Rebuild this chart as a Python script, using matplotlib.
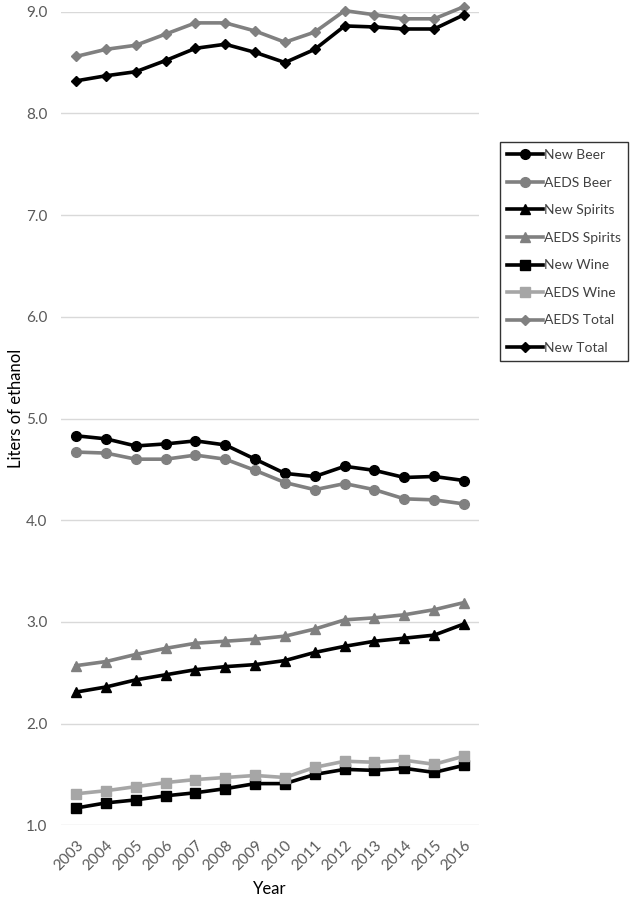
import matplotlib.pyplot as plt

plt.rcParams['font.family'] = ['Lato', 'DejaVu Sans']

years = [2003, 2004, 2005, 2006, 2007, 2008, 2009, 2010, 2011, 2012, 2013, 2014, 2015, 2016]

new_beer = [4.83, 4.80, 4.73, 4.75, 4.78, 4.74, 4.60, 4.46, 4.43, 4.53, 4.49, 4.42, 4.43, 4.39]
aeds_beer = [4.67, 4.66, 4.60, 4.60, 4.64, 4.60, 4.49, 4.37, 4.30, 4.36, 4.30, 4.21, 4.20, 4.16]
new_spirits = [2.31, 2.36, 2.43, 2.48, 2.53, 2.56, 2.58, 2.62, 2.70, 2.76, 2.81, 2.84, 2.87, 2.98]
aeds_spirits = [2.57, 2.61, 2.68, 2.74, 2.79, 2.81, 2.83, 2.86, 2.93, 3.02, 3.04, 3.07, 3.12, 3.19]
new_wine = [1.17, 1.22, 1.25, 1.29, 1.32, 1.36, 1.41, 1.41, 1.50, 1.55, 1.54, 1.56, 1.52, 1.59]
aeds_wine = [1.31, 1.34, 1.38, 1.42, 1.45, 1.47, 1.49, 1.47, 1.57, 1.63, 1.62, 1.64, 1.60, 1.68]
aeds_total = [8.56, 8.63, 8.67, 8.78, 8.89, 8.89, 8.81, 8.70, 8.80, 9.01, 8.97, 8.93, 8.93, 9.05]
new_total = [8.32, 8.37, 8.41, 8.52, 8.64, 8.68, 8.60, 8.50, 8.63, 8.86, 8.85, 8.83, 8.83, 8.97]

black = '#000000'
gray = '#808080'
light = '#a6a6a6'
text_col = '#595959'

series = [
    ('New Beer', new_beer, black, 'o', 7),
    ('AEDS Beer', aeds_beer, gray, 'o', 7),
    ('New Spirits', new_spirits, black, '^', 7.5),
    ('AEDS Spirits', aeds_spirits, gray, '^', 7.5),
    ('New Wine', new_wine, black, 's', 6.5),
    ('AEDS Wine', aeds_wine, light, 's', 6.5),
    ('AEDS Total', aeds_total, gray, 'D', 5.5),
    ('New Total', new_total, black, 'D', 5.5),
]

fig = plt.figure(figsize=(6.31, 9.0), dpi=100)
ax = fig.add_axes([0.097, 0.083, 0.662, 0.904])

for name, vals, col, mk, ms in series:
    ax.plot(years, vals, color=col, marker=mk, markersize=ms, linewidth=2.6,
            label=name, clip_on=False, zorder=3)

ax.set_xlim(2002.5, 2016.5)
ax.set_ylim(1.0, 9.0)
ax.set_yticks([1, 2, 3, 4, 5, 6, 7, 8, 9])
ax.set_yticklabels(['%.1f' % v for v in range(1, 10)])
ax.set_xticks(years)
ax.set_xticklabels([str(y) for y in years], rotation=45, ha='right',
                   rotation_mode='anchor')
ax.grid(axis='y', color='#d9d9d9', linewidth=1)
ax.set_axisbelow(True)
for s in ax.spines.values():
    s.set_visible(False)
ax.tick_params(length=0, colors=text_col, labelsize=11)
ax.tick_params(axis='y', pad=10)
ax.tick_params(axis='x', pad=9)

ax.set_ylabel('Liters of ethanol', fontsize=12, color='black')
ax.yaxis.set_label_coords(-0.088, 0.513)
ax.set_xlabel('Year', fontsize=12, color='black', labelpad=6)

leg = fig.legend(loc='upper left', bbox_to_anchor=(0.792, 0.842),
                 borderaxespad=0, fancybox=False, edgecolor='black',
                 fontsize=10, handlelength=2.6, handletextpad=0.1,
                 labelspacing=1.12, borderpad=0.5)
leg.get_frame().set_linewidth(1)
for t in leg.get_texts():
    t.set_color('#404040')

fig.savefig('out.png', dpi=100)
